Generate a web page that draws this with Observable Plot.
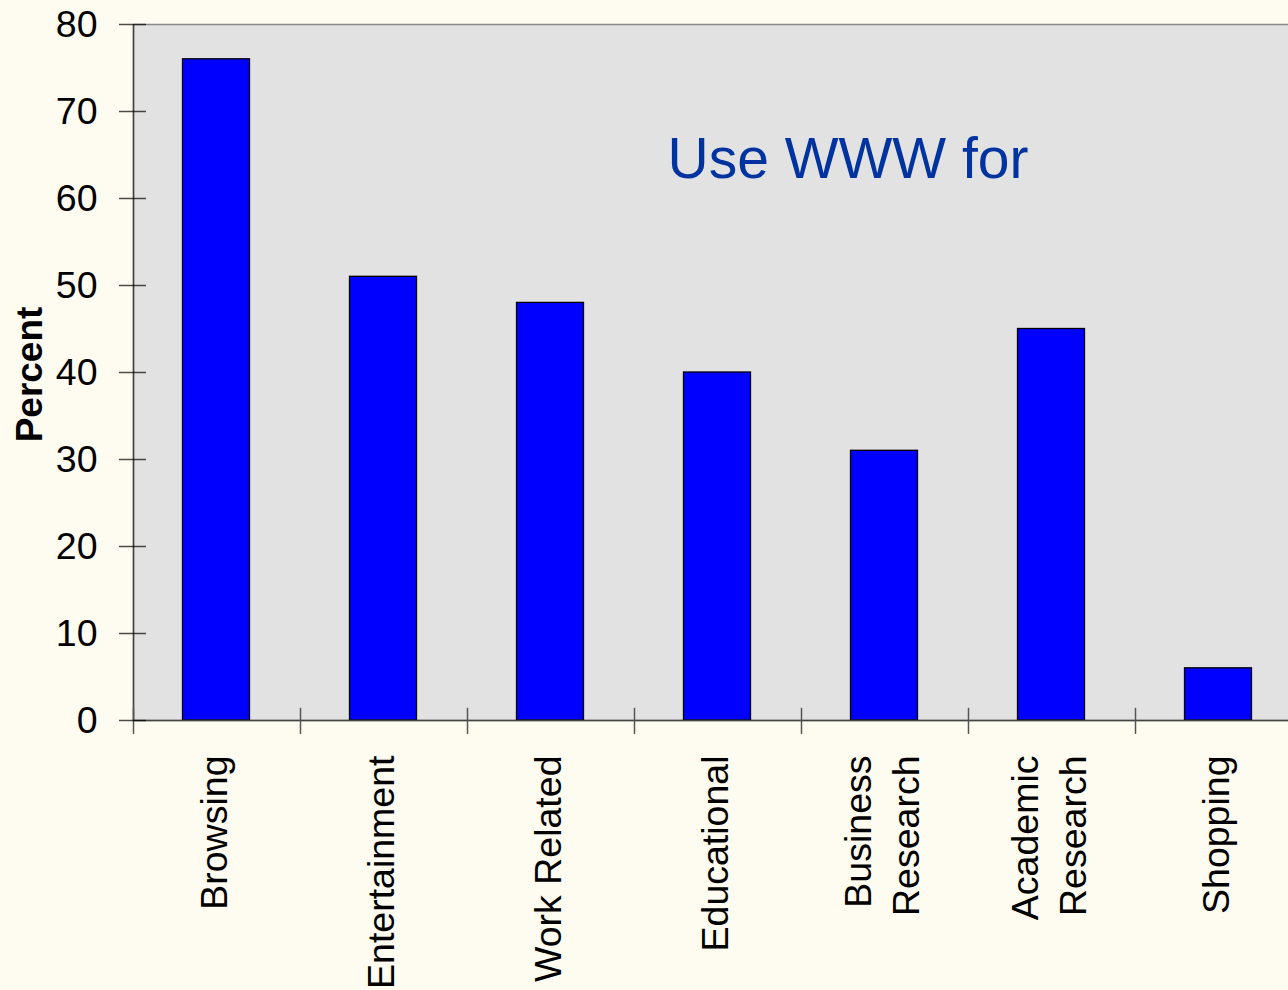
<!DOCTYPE html>
<html><head><meta charset="utf-8">
<script src="https://cdn.jsdelivr.net/npm/d3@7"></script>
<script src="https://cdn.jsdelivr.net/npm/@observablehq/plot@0.6"></script>
<style>
html,body{margin:0;padding:0;background:#fefbf0;overflow:hidden;}
#chart svg{display:block;}
</style></head><body><div id="chart"></div>
<script>
const categories = ["Browsing","Entertainment","Work Related","Educational","Business Research","Academic Research","Shopping"];
const tickLabels = ["Browsing","Entertainment","Work Related","Educational","Business\nResearch","Academic\nResearch","Shopping"];
const percents = [76, 51, 48, 40, 31, 45, 6];
const yTicks = [0, 10, 20, 30, 40, 50, 60, 70, 80];
const title = "Use WWW for";
const yLabel = "Percent";

const data = categories.map((c, i) => ({category: c, label: tickLabels[i], value: percents[i]}));
const font = "'Liberation Sans', Arial, Helvetica, sans-serif";
const half = 83.5;

const chart = Plot.plot({
  width: 1288, height: 990,
  marginTop: 24, marginBottom: 270, marginLeft: 133, marginRight: -14,
  style: {background: "transparent", fontFamily: font, color: "#000"},
  x: {domain: categories, padding: 0, axis: null},
  y: {domain: [0, 80], axis: null},
  marks: [
    Plot.frame({fill: "#e2e2e2", stroke: "#8a8a8a", strokeWidth: 1.5}),
    Plot.barY(data, {x: "category", y: "value", fill: "#0000ff", stroke: "#000", strokeWidth: 1.3, insetLeft: 49.5, insetRight: 50.5}),
    Plot.ruleY([0], {stroke: "#444", strokeWidth: 1.5}),
    Plot.ruleX(categories.slice(0, 1), {x: d => d, dx: -half, y1: 0, y2: 80, stroke: "#444", strokeWidth: 1.5}),
    Plot.ruleX(categories, {x: d => d, dx: -half, y1: -1.6, y2: 1.4, stroke: "#555", strokeWidth: 1.5}),
    Plot.axisY(yTicks, {tickSize: 27, dx: 13, tickPadding: 22, fontSize: 37.5, strokeWidth: 1.5, strokeOpacity: 0.7, tickFormat: d => String(d), label: null}),
    Plot.text([yLabel], {frameAnchor: "left", dx: -103, dy: 2, rotate: -90, textAnchor: "middle", fontSize: 37, fontWeight: "bold", fill: "#000"}),
    Plot.text(data, {x: "category", text: "label", frameAnchor: "bottom", dx: -5, dy: 35, rotate: -90, textAnchor: "end", lineAnchor: "middle", lineHeight: 1.28, fontSize: 37.5, fill: "#000"}),
    Plot.text([title], {frameAnchor: "top-left", dx: 534, dy: 113, textAnchor: "start", lineAnchor: "top", fontSize: 57, fill: "#0033a0"})
  ]
});
document.getElementById("chart").appendChild(chart);
</script>
</body></html>
